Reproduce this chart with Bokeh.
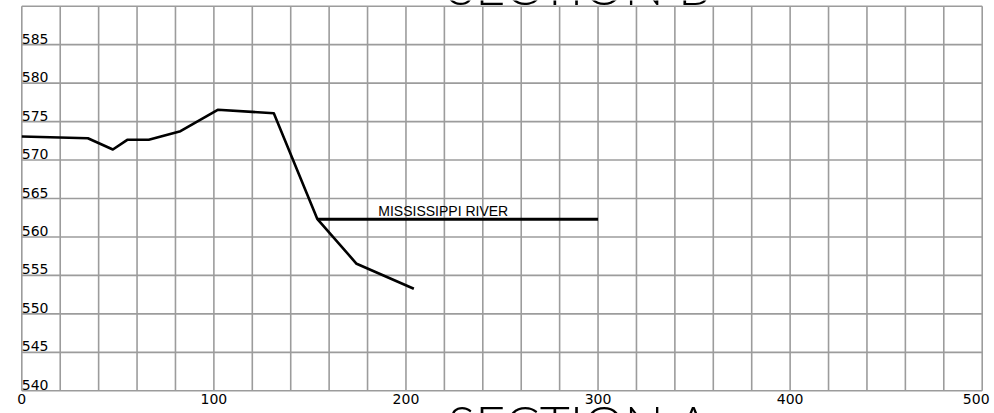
from bokeh.plotting import figure
from bokeh.models import Range1d, Label
from bokeh.core.properties import value
from bokeh.embed import file_html
from bokeh.resources import INLINE

# ---- data ----
station = [0, 34.4, 47.4, 54.9, 66.1, 82.6, 102.0, 131.2, 153.8, 174.3, 204.1]
elevation = [573.06, 572.84, 571.37, 572.63, 572.63, 573.75, 576.53, 576.09, 562.36, 556.51, 553.26]
river_station = [153.8, 300.0]
river_elevation = [562.3, 562.3]
river_name = "MISSISSIPPI RIVER"
river_label_station = 185.6
river_label_elev = 562.6
x_grid = list(range(0, 501, 20))
y_grid = list(range(540, 591, 5))
x_tick_labels = [0, 100, 200, 300, 400, 500]
y_tick_labels = [540, 545, 550, 555, 560, 565, 570, 575, 580, 585]
title_top = "SECTION B"
title_bottom = "SECTION A"

W, H = 994, 413
p = figure(width=W, height=H, output_backend="svg", toolbar_location=None,
           x_range=Range1d(-11.09, 506.4), y_range=Range1d(537.05, 590.74),
           min_border=0, min_border_left=0, min_border_right=0,
           min_border_top=0, min_border_bottom=0)
p.axis.visible = False
p.grid.visible = False
p.outline_line_color = None
p.background_fill_color = "white"
p.border_fill_color = "white"

grid_color = "#9c9c9c"
# vertical grid lines
p.segment(x0=x_grid, y0=[y_grid[0]] * len(x_grid), x1=x_grid, y1=[y_grid[-1]] * len(x_grid),
          line_color=grid_color, line_width=1.6)
# horizontal grid lines
p.segment(x0=[x_grid[0]] * len(y_grid), y0=y_grid, x1=[x_grid[-1]] * len(y_grid), y1=y_grid,
          line_color=grid_color, line_width=1.6)

# ground profile
p.line(station, elevation, line_color="black", line_width=2.6, line_join="round")
# river water surface
p.line(river_station, river_elevation, line_color="black", line_width=3.2)

# y tick labels (inside the grid, sitting on the line)
p.text(x=[x_grid[0]] * len(y_tick_labels), y=y_tick_labels, text=[str(v) for v in y_tick_labels],
       text_align="left", text_baseline="alphabetic", y_offset=-6,
       text_font=value("DejaVu Sans"), text_font_size="14px", text_color="black")
# x tick labels below the grid
p.text(x=x_tick_labels, y=[y_grid[0]] * len(x_tick_labels), text=[str(v) for v in x_tick_labels],
       text_align="center", text_baseline="top", y_offset=3, x_offset=[0, 0, 0, 0, 0, -6],
       text_font=value("DejaVu Sans"), text_font_size="14px", text_color="black")

# river label
p.text(x=[river_label_station], y=[river_label_elev], text=[river_name],
       text_align="left", text_baseline="alphabetic", y_offset=-6,
       text_font=value("Liberation Sans"), text_font_size="14px", text_color="black")

# section titles (cut by the picture's edges, as in the drawing)
p.add_layout(Label(x=221.6, y=590, y_offset=21, text=title_top, text_align="left",
                   text_baseline="alphabetic", text_font="Lato Light",
                   text_font_size="52px", text_color="black"))
p.add_layout(Label(x=221.6, y=540, y_offset=-32, text=title_bottom, text_align="left",
                   text_baseline="alphabetic", text_font="Lato Light",
                   text_font_size="52px", text_color="black"))

open("out.html", "w").write(file_html(p, INLINE))
